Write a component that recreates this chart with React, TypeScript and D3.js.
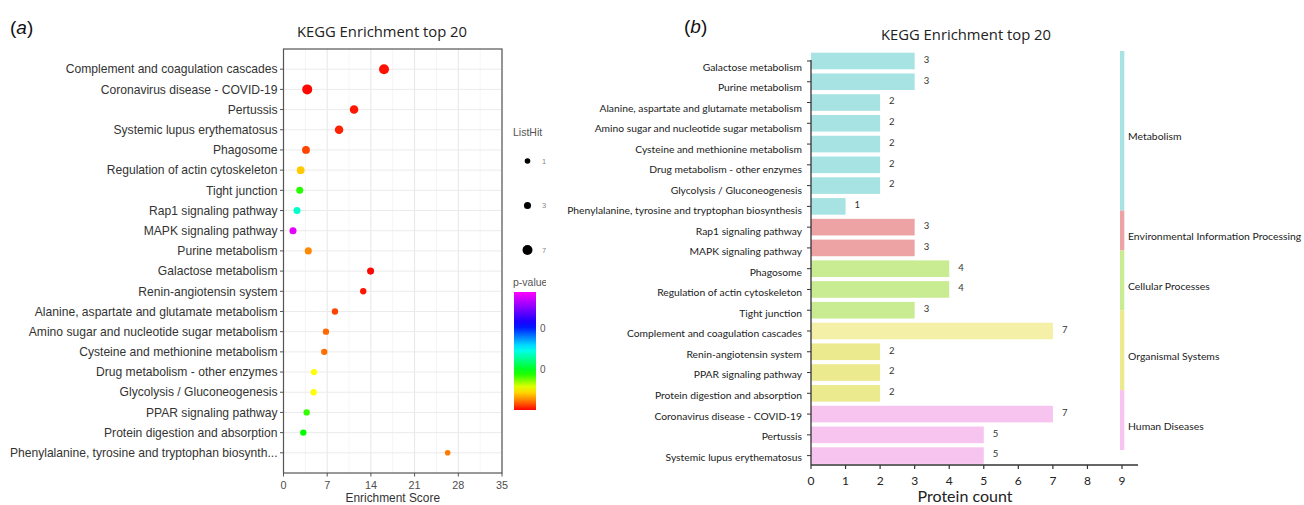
import React from 'react';
import * as d3 from 'd3';

// ---- panel (a): bubble chart data ----
const dotTerms = [
  'Complement and coagulation cascades',
  'Coronavirus disease - COVID-19',
  'Pertussis',
  'Systemic lupus erythematosus',
  'Phagosome',
  'Regulation of actin cytoskeleton',
  'Tight junction',
  'Rap1 signaling pathway',
  'MAPK signaling pathway',
  'Purine metabolism',
  'Galactose metabolism',
  'Renin-angiotensin system',
  'Alanine, aspartate and glutamate metabolism',
  'Amino sugar and nucleotide sugar metabolism',
  'Cysteine and methionine metabolism',
  'Drug metabolism - other enzymes',
  'Glycolysis / Gluconeogenesis',
  'PPAR signaling pathway',
  'Protein digestion and absorption',
  'Phenylalanine, tyrosine and tryptophan biosynth...'
];
const dotScore = [16.1, 3.8, 11.3, 8.9, 3.6, 2.75, 2.6, 2.16, 1.52, 3.97, 13.95, 12.77, 8.24, 6.8, 6.53, 4.88, 4.83, 3.71, 3.17, 26.3];
const dotHits = [7, 7, 5, 5, 4, 4, 3, 3, 3, 3, 3, 2, 2, 2, 2, 2, 2, 2, 2, 1];
const dotP = [0.0005, 0.0003, 0.0006, 0.0008, 0.0014, 0.0042, 0.0088, 0.014, 0.0281, 0.0027, 0.0003, 0.0006, 0.0014, 0.0021, 0.0022, 0.0054, 0.0054, 0.0086, 0.0094, 0.0024];
const scoreTicks = [0, 7, 14, 21, 28, 35];
const hitLegend = [1, 3, 7];
const pTicks = [0.01, 0.02];

// ---- panel (b): bar chart data ----
const barTerms = [
  'Galactose metabolism',
  'Purine metabolism',
  'Alanine, aspartate and glutamate metabolism',
  'Amino sugar and nucleotide sugar metabolism',
  'Cysteine and methionine metabolism',
  'Drug metabolism - other enzymes',
  'Glycolysis / Gluconeogenesis',
  'Phenylalanine, tyrosine and tryptophan biosynthesis',
  'Rap1 signaling pathway',
  'MAPK signaling pathway',
  'Phagosome',
  'Regulation of actin cytoskeleton',
  'Tight junction',
  'Complement and coagulation cascades',
  'Renin-angiotensin system',
  'PPAR signaling pathway',
  'Protein digestion and absorption',
  'Coronavirus disease - COVID-19',
  'Pertussis',
  'Systemic lupus erythematosus'
];
const barCounts = [3, 3, 2, 2, 2, 2, 2, 1, 3, 3, 4, 4, 3, 7, 2, 2, 2, 7, 5, 5];
const groupNames = ['Metabolism', 'Environmental Information Processing', 'Cellular Processes', 'Organismal Systems', 'Human Diseases'];
const groupSizes = [8, 2, 3, 4, 3];
const countTicks = [0, 1, 2, 3, 4, 5, 6, 7, 8, 9];

const groupColor: Record<string, string> = {
  Metabolism: '#a7e3e3',
  'Environmental Information Processing': '#eda3a3',
  'Cellular Processes': '#c9ec93',
  'Organismal Systems': '#ecea8e',
  'Human Diseases': '#f7c3ef'
};

const barGroup: string[] = [];
groupNames.forEach((g, i) => {
  for (let k = 0; k < groupSizes[i]; k++) barGroup.push(g);
});

const fontA = '"Liberation Sans", Arial, sans-serif';
const fontB = 'Lato, "Open Sans", sans-serif';

// rainbow scale for p-value
const pMin = 0.0002;
const pMax = 0.029;
const rainbowStops = [0, 0.08, 0.18, 0.32, 0.52, 0.72, 0.86, 1];
const rainbowColors = ['#ff0000', '#ff8000', '#ffff00', '#00ff00', '#00ffff', '#0000ff', '#8000ff', '#ff00ff'];
const pColor = d3
  .scaleLinear<string>()
  .domain(rainbowStops.map(s => pMin + s * (pMax - pMin)))
  .range(rainbowColors)
  .interpolate(d3.interpolateRgb);

function BubblePanel() {
  const x0 = 283.5, x1 = 502, y0 = 49, y1 = 473;
  const x = d3.scaleLinear().domain([0, 35]).range([x0, x1]);
  const y = d3.scalePoint<string>().domain(dotTerms).range([y0, y1]).padding(1);
  const r = d3.scaleLinear().domain([1, 7]).range([2.8, 5]);
  const minor = d3.range(3.5, 35, 7);

  // legend
  const legX = 513;
  const gradTop = 292, gradBottom = 410;
  const pScale = d3.scaleLinear().domain([pMin, pMax]).range([gradBottom, gradTop]);
  const gradStops = d3.range(0, 1.0001, 0.05);

  return (
    <g>
      <text x={10} y={34} fontFamily={fontA} fontSize={19} fill="#111">
        (<tspan fontStyle="italic">a</tspan>)
      </text>
      <text x={382} y={37} textAnchor="middle" fontFamily='"Open Sans", sans-serif' fontSize={14.8} fill="#222">
        KEGG Enrichment top 20
      </text>

      <rect x={x0} y={y0} width={x1 - x0} height={y1 - y0} fill="#fff" />
      {minor.map(v => (
        <line key={'m' + v} x1={x(v)} x2={x(v)} y1={y0} y2={y1} stroke="#f2f2f2" strokeWidth={0.8} />
      ))}
      {scoreTicks.map(v => (
        <line key={'g' + v} x1={x(v)} x2={x(v)} y1={y0} y2={y1} stroke="#e6e6e6" strokeWidth={1} />
      ))}
      {dotTerms.map(t => (
        <line key={'h' + t} x1={x0} x2={x1} y1={y(t)} y2={y(t)} stroke="#ebebeb" strokeWidth={1} />
      ))}
      <rect x={x0} y={y0} width={x1 - x0} height={y1 - y0} fill="none" stroke="#555" strokeWidth={1.2} />

      {dotTerms.map((t, i) => (
        <circle key={t} cx={x(dotScore[i])} cy={y(t)} r={r(dotHits[i])} fill={pColor(dotP[i])} />
      ))}

      {dotTerms.map(t => (
        <g key={'l' + t}>
          <line x1={x0 - 3.5} x2={x0} y1={y(t)} y2={y(t)} stroke="#555" />
          <text x={x0 - 6} y={y(t)} dy="0.35em" textAnchor="end" fontFamily={fontA} fontSize={12.1} fill="#333">
            {t}
          </text>
        </g>
      ))}
      {scoreTicks.map(v => (
        <g key={'t' + v}>
          <line x1={x(v)} x2={x(v)} y1={y1} y2={y1 + 3.5} stroke="#555" />
          <text x={x(v)} y={y1 + 12} dy="0.35em" textAnchor="middle" fontFamily={fontA} fontSize={10.8} fill="#4d4d4d">
            {v}
          </text>
        </g>
      ))}
      <text x={(x0 + x1) / 2} y={498} dy="0.35em" textAnchor="middle" fontFamily={fontA} fontSize={11.9} fill="#333">
        Enrichment Score
      </text>

      {/* legend */}
      <defs>
        <linearGradient id="pgrad" x1="0" y1="1" x2="0" y2="0">
          {gradStops.map(s => (
            <stop key={s} offset={s} stopColor={pColor(pMin + s * (pMax - pMin))} />
          ))}
        </linearGradient>
        <clipPath id="clipLegend">
          <rect x={500} y={110} width={46} height={310} />
        </clipPath>
      </defs>
      <g clipPath="url(#clipLegend)">
        <text x={legX} y={132} dy="0.35em" fontFamily={fontA} fontSize={10.5} fill="#555">
          ListHit
        </text>
        {hitLegend.map((h, i) => (
          <g key={'hl' + h}>
            <circle cx={527.5} cy={161 + i * 44.5} r={r(h)} fill="#000" />
            <text x={542} y={161 + i * 44.5} dy="0.35em" fontFamily={fontA} fontSize={7.5} fill="#888">
              {h}
            </text>
          </g>
        ))}
        <text x={legX} y={282} dy="0.35em" fontFamily={fontA} fontSize={10.5} fill="#555">
          p-value
        </text>
        <rect x={514} y={gradTop} width={22} height={gradBottom - gradTop} fill="url(#pgrad)" />
        {pTicks.map(p => (
          <text key={p} x={540} y={pScale(p)} dy="0.35em" fontFamily={fontA} fontSize={10} fill="#555">
            {p.toFixed(2)}
          </text>
        ))}
      </g>
    </g>
  );
}

function BarPanel() {
  const x = d3.scaleLinear().domain([0, 9]).range([811, 1122]);
  const y = d3.scaleBand<string>().domain(barTerms).range([50.6, 466]).paddingInner(0.2).paddingOuter(0.1);
  const yLab = d3.scalePoint<string>().domain(barTerms).range([67, 457]);
  const axisY = 465;
  const strip = d3.scaleLinear().domain([0, barTerms.length]).range([51, 450]);
  const starts = groupSizes.map((_, i) => d3.sum(groupSizes.slice(0, i)));
  const mid = (t: string) => (y(t) as number) + y.bandwidth() / 2;

  const barFill = (t: string, i: number) =>
    t === 'Complement and coagulation cascades' ? '#f4f0a8' : groupColor[barGroup[i]];

  return (
    <g>
      <text x={684} y={33} fontFamily={fontA} fontSize={19} fill="#111">
        (<tspan fontStyle="italic">b</tspan>)
      </text>
      <text x={966} y={40} textAnchor="middle" fontFamily='"Open Sans", sans-serif' fontSize={14.8} fill="#222">
        KEGG Enrichment top 20
      </text>

      {barTerms.map((t, i) => (
        <g key={t}>
          <rect x={x(0)} y={y(t)} width={x(barCounts[i]) - x(0)} height={y.bandwidth()} fill={barFill(t, i)} />
          <text x={x(barCounts[i]) + 9} y={mid(t) - 1.5} dy="0.35em" fontFamily={fontB} fontSize={9.5} fill="#333">
            {barCounts[i]}
          </text>
          <line x1={x(0) - 4} x2={x(0)} y1={mid(t)} y2={mid(t)} stroke="#333" />
          <text x={802} y={yLab(t)} dy="0.35em" textAnchor="end" fontFamily={fontB} fontSize={10.3} fill="#222">
            {t}
          </text>
        </g>
      ))}

      <line x1={x(0)} x2={x(0)} y1={60} y2={axisY} stroke="#333" strokeWidth={1.3} />
      <line x1={x(0)} x2={x(9) + 16} y1={axisY} y2={axisY} stroke="#333" strokeWidth={1.3} />
      {countTicks.map(v => (
        <g key={'c' + v}>
          <line x1={x(v)} x2={x(v)} y1={axisY} y2={axisY + 4} stroke="#333" strokeWidth={1.2} />
          <text x={x(v)} y={481} dy="0.35em" textAnchor="middle" fontFamily={fontB} fontSize={12} fill="#222">
            {v}
          </text>
        </g>
      ))}
      <text x={965} y={496} dy="0.35em" textAnchor="middle" fontFamily={fontB} fontSize={16} fill="#222">
        Protein count
      </text>

      {groupNames.map((g, i) => {
        const a = strip(starts[i]);
        const b = strip(starts[i] + groupSizes[i]);
        return (
          <g key={g}>
            <rect x={1120} y={a} width={4.3} height={b - a} fill={groupColor[g]} />
            <text x={1128} y={(a + b) / 2 + 6} dy="0.35em" fontFamily={fontB} fontSize={10.4} fill="#222">
              {g}
            </text>
          </g>
        );
      })}
    </g>
  );
}

export default function App() {
  return (
    <svg
      width={1304}
      height={505}
      style={{ position: 'absolute', left: 0, top: 0, background: '#fff' }}
    >
      <rect width={1304} height={505} fill="#fff" />
      <BubblePanel />
      <BarPanel />
    </svg>
  );
}
